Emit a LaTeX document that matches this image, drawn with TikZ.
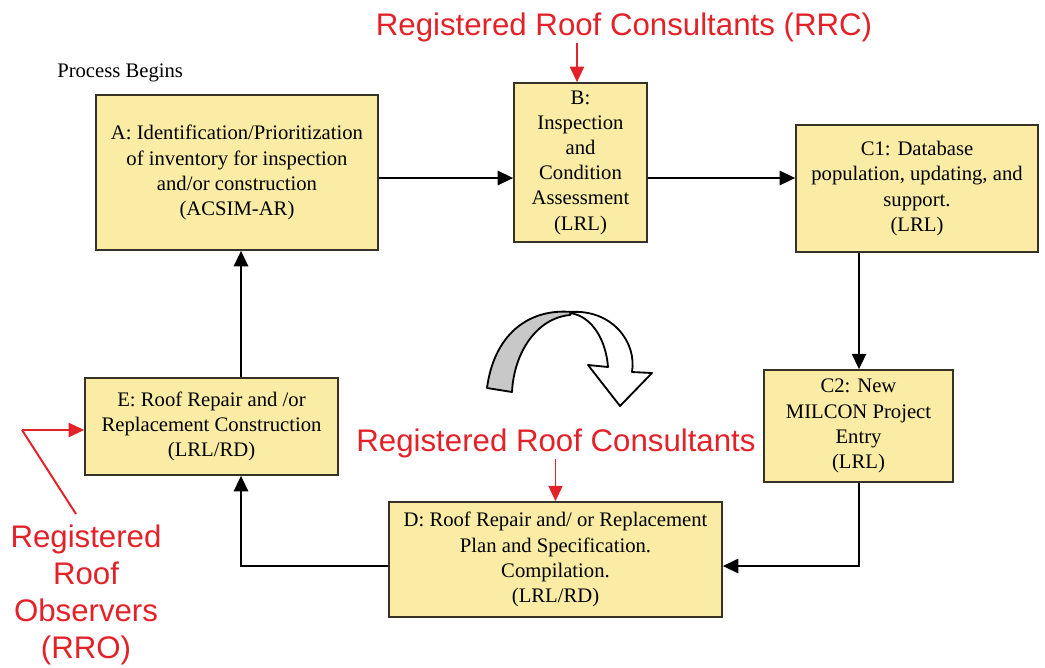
\documentclass[tikz,border=0pt]{standalone}
\usepackage{fontspec}
\setmainfont{Liberation Serif}
\newfontfamily\redsans{Liberation Sans}
\usetikzlibrary{arrows.meta,calc}
\definecolor{boxfill}{RGB}{250,236,164}
\definecolor{boxline}{RGB}{55,50,40}
\definecolor{rrred}{RGB}{226,34,40}
\definecolor{arrgray}{RGB}{200,200,200}
\tikzset{
  box/.style={draw=boxline, line width=1.1pt, fill=boxfill, align=center, inner sep=0pt,
              font=\fontsize{14.7}{17.9}\selectfont},
  conn/.style={line width=1.8pt, -{Triangle[length=11pt,width=10pt]}},
  redarr/.style={draw=rrred, line width=1.4pt, -{Triangle[length=11pt,width=10pt]}},
  redline/.style={draw=rrred, line width=1.4pt},
  redlbl/.style={text=rrred, align=center, inner sep=1pt, font=\redsans\fontsize{22.2}{26.3}\selectfont},
  curvedarrow/.style={draw=black, line width=1.3pt, line join=round}
}
\begin{document}
\begin{tikzpicture}[x=0.025cm, y=-0.025cm]
\useasboundingbox (0,0) rectangle (1045,667);

% boxes
\node[box, minimum width=7.05cm, minimum height=3.875cm] (A) at (237,172.5)
  {A: Identification/Prioritization\\of inventory for inspection\\and/or construction\\(ACSIM-AR)};
\node[box, minimum width=3.325cm, minimum height=3.975cm] (B) at (580.5,162.5)
  {B:\\Inspection\\and\\Condition\\Assessment\\(LRL)};
\node[box, minimum width=6.05cm, minimum height=3.175cm] (C1) at (917,188.5)
  {C1: Database\\population, updating, and\\support.\\(LRL)};
\node[box, minimum width=4.725cm, minimum height=2.8cm] (C2) at (858.5,426)
  {C2: New\\MILCON Project\\Entry\\(LRL)};
\node[box, minimum width=8.325cm, minimum height=2.875cm] (D) at (555.5,559.5)
  {D: Roof Repair and/ or Replacement\\Plan and Specification.\\Compilation.\\(LRL/RD)};
\node[box, minimum width=6.325cm, minimum height=2.425cm] (E) at (211.5,426.5)
  {E: Roof Repair and /or\\Replacement Construction\\(LRL/RD)};

% labels
\node[anchor=west, inner sep=0pt, font=\fontsize{14.7}{17.9}\selectfont] (PB) at (57,73) {Process Begins};
\node[redlbl] (RRC) at (624,27) {Registered Roof Consultants (RRC)};
\node[redlbl] (RRC2) at (556,443) {Registered Roof Consultants};
\node[redlbl] (RRO) at (86,595) {Registered\\Roof\\Observers\\(RRO)};

% black connectors
\coordinate (ab) at (0,178);
\coordinate (dy) at (0,566);
\coordinate (ex) at (241,0);
\coordinate (cx) at (859,0);
\draw[conn] (A.east |- ab) -- (B.west |- ab);
\draw[conn] (B.east |- ab) -- (C1.west |- ab);
\draw[conn] (C1.south -| cx) -- (C2.north -| cx);
\draw[conn] (C2.south -| cx) |- (D.east |- dy);
\draw[conn] (D.west |- dy) -| (E.south -| ex);
\draw[conn] (E.north -| ex) -- (A.south -| ex);

% red connectors
\coordinate (rx) at (577,0);
\draw[redarr] (RRC.south -| rx) -- (B.north -| rx);
\draw[redarr] (RRC2.south -| D.north) -- (D.north);
\coordinate (ro) at (22,430);
\coordinate (rotop) at (76,514);
\draw[redline] (rotop) -- (ro);
\draw[redarr] (ro) -- (E.west |- ro);

% curved arrow
\draw[curvedarrow, fill=arrgray] (487,388) .. controls (494,335) and (528,308) .. (572,312)
  -- (570,315) .. controls (537,318) and (514,352) .. (512,392) -- cycle;
\draw[curvedarrow, fill=white] (570,312) .. controls (612,309) and (637,342) .. (632,372)
  -- (652,373) -- (620,406) -- (588,365) -- (608,367)
  .. controls (606,340) and (592,316) .. (570,313) -- cycle;
\end{tikzpicture}
\end{document}
